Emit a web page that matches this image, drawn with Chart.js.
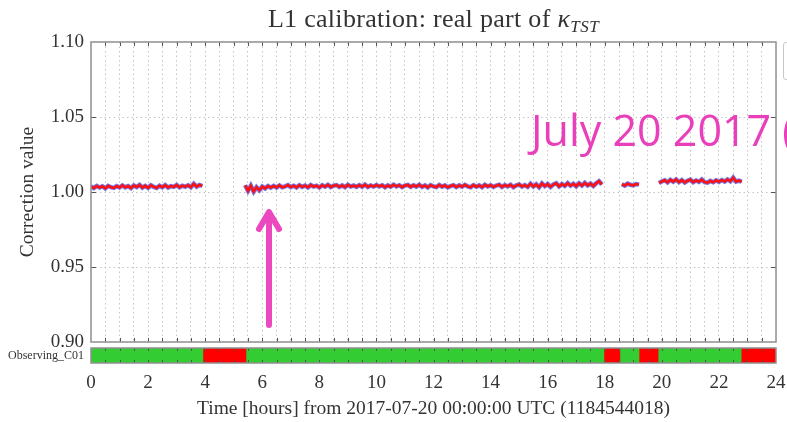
<!DOCTYPE html>
<html><head><meta charset="utf-8">
<script src="https://cdn.jsdelivr.net/npm/chart.js@4.4.0/dist/chart.umd.min.js"></script>
<style>
html,body{margin:0;padding:0;background:#fff;}
body{width:787px;height:422px;overflow:hidden;position:relative;font-family:"Liberation Serif","DejaVu Serif",serif;}
#c1{position:absolute;left:0;top:0;}
#c2{position:absolute;left:0;top:344px;}
#title{position:absolute;left:91px;width:685px;top:2px;text-align:center;font-size:26px;line-height:34px;letter-spacing:0.3px;color:#333;white-space:nowrap;}
#title sub{font-size:17px;vertical-align:-5px;line-height:0;letter-spacing:0.5px;}
#note{position:absolute;left:531px;top:105px;font-family:"Open Sans",sans-serif;font-size:43px;line-height:50px;color:#e93fbb;white-space:nowrap;}
#legbox{position:absolute;left:783px;top:42px;width:30px;height:36px;border:1px solid #c8c8c8;border-radius:3px;background:#fff;}
#arrow{position:absolute;left:0;top:0;}
</style>
</head><body>
<canvas id="c2" width="787" height="78"></canvas>
<canvas id="c1" width="787" height="358"></canvas>
<div id="title">L1 calibration: real part of <i>κ</i><sub><i>TST</i></sub></div>
<div id="legbox"></div>
<div id="note">July 20 2017 (</div>
<svg id="arrow" width="787" height="422">
  <line x1="269" y1="325" x2="269" y2="214" stroke="#ec48bf" stroke-width="6" stroke-linecap="round"/>
  <polyline points="259,229 269,212 279,229" fill="none" stroke="#ec48bf" stroke-width="6" stroke-linecap="round" stroke-linejoin="round"/>
</svg>
<script>
// ---- data (hours, correction value) ----
const timeStep = 0.1;
const seg1Start = 0.0;
const seg1Values = [1.0036,1.0026,1.0040,1.0030,1.0038,1.0024,1.0041,1.0032,1.0027,1.0039,
 1.0030,1.0044,1.0031,1.0040,1.0026,1.0043,1.0033,1.0047,1.0029,1.0041,
 1.0028,1.0045,1.0034,1.0027,1.0042,1.0031,1.0046,1.0030,1.0039,1.0034,
 1.0046,1.0031,1.0042,1.0035,1.0045,1.0032,1.0055,1.0036,1.0047,1.0040];
const seg2Start = 5.4;
const seg2Values = [1.0045,1.0008,1.0042,1.0002,1.0032,1.0012,1.0036,1.0024,1.0040,1.0029,
 1.0041,1.0030,1.0044,1.0031,1.0038,1.0046,1.0033,1.0042,1.0030,1.0045,
 1.0034,1.0043,1.0031,1.0047,1.0036,1.0042,1.0030,1.0045,1.0035,1.0048,
 1.0033,1.0042,1.0046,1.0034,1.0044,1.0032,1.0048,1.0036,1.0043,1.0034,
 1.0046,1.0035,1.0049,1.0033,1.0044,1.0036,1.0047,1.0037,1.0045,1.0032,
 1.0044,1.0035,1.0049,1.0037,1.0045,1.0032,1.0043,1.0047,1.0034,1.0045,
 1.0036,1.0048,1.0034,1.0044,1.0031,1.0046,1.0037,1.0033,1.0047,1.0035,
 1.0044,1.0031,1.0040,1.0046,1.0033,1.0044,1.0035,1.0048,1.0037,1.0031,
 1.0046,1.0035,1.0044,1.0032,1.0048,1.0037,1.0045,1.0034,1.0043,1.0049,
 1.0034,1.0046,1.0037,1.0048,1.0032,1.0044,1.0050,1.0036,1.0046,1.0034,
 1.0055,1.0036,1.0051,1.0031,1.0057,1.0039,1.0053,1.0034,1.0050,1.0058,
 1.0037,1.0053,1.0041,1.0059,1.0042,1.0055,1.0038,1.0058,1.0043,1.0061,
 1.0044,1.0056,1.0040,1.0058,1.0072,1.0050];
const seg3Start = 18.6;
const seg3Values = [1.0052,1.0043,1.0056,1.0048,1.0044,1.0053,1.0049];
const seg4Start = 19.9;
const seg4Values = [1.0060,1.0070,1.0078,1.0064,1.0081,1.0069,1.0084,1.0066,1.0079,1.0063,
 1.0075,1.0082,1.0065,1.0077,1.0068,1.0083,1.0066,1.0062,1.0074,1.0065,
 1.0078,1.0068,1.0080,1.0070,1.0084,1.0072,1.0095,1.0069,1.0076,1.0068];

// observing state segments (hours)
const stateLabel = 'Observing_C01';
const stateStarts = [0, 3.92, 5.43, 17.97, 18.53, 19.2, 19.87, 22.78];
const stateEnds   = [3.92, 5.43, 17.97, 18.53, 19.2, 19.87, 22.78, 24];
const stateOn     = [true, false, true, false, true, false, true, false];

const yTickValues = [0.90, 0.95, 1.00, 1.05, 1.10];
const xTickLabelEvery = 2;

const tickFont = {family: "'Liberation Serif', serif", size: 19};
const axisTitleFont = {family: "'Liberation Serif', serif", size: 19.5};
const segments = [[seg1Start, seg1Values],[seg2Start, seg2Values],[seg3Start, seg3Values],[seg4Start, seg4Values]];
const points = [];
segments.forEach(([s, vals], k) => {
  if (k > 0) points.push({x: s - 0.05, y: null});
  vals.forEach((v, i) => points.push({x: +(s + i * timeStep).toFixed(2), y: v}));
});

function noPad(s) { s.paddingTop = 0; s.paddingBottom = 0; s.paddingLeft = 0; s.paddingRight = 0; }

function frameAndTicks(yTicks, tickLen) {
  return {
    id: 'frame',
    afterDraw(chart) {
      const {ctx, chartArea: a, scales} = chart;
      ctx.save();
      ctx.strokeStyle = '#555';
      ctx.lineWidth = 1;
      ctx.beginPath();
      for (let h = 0.5; h < 24; h += 0.5) {
        const px = Math.round(scales.x.getPixelForValue(h)) + 0.5;
        ctx.moveTo(px, a.top); ctx.lineTo(px, a.top + tickLen);
        ctx.moveTo(px, a.bottom); ctx.lineTo(px, a.bottom - tickLen);
      }
      if (yTicks) yTicks.forEach(v => {
        const py = Math.round(scales.y.getPixelForValue(v)) + 0.5;
        ctx.moveTo(a.left, py); ctx.lineTo(a.left + 5, py);
        ctx.moveTo(a.right, py); ctx.lineTo(a.right - 5, py);
      });
      ctx.stroke();
      ctx.strokeStyle = '#8f8f8f';
      ctx.lineWidth = 1.5;
      ctx.strokeRect(a.left, a.top, a.right - a.left, a.bottom - a.top);
      ctx.restore();
    }
  };
}

new Chart(document.getElementById('c1'), {
  type: 'line',
  data: {datasets: [
    {data: points, borderColor: '#ff1010', borderWidth: 2.5, pointRadius: 0, spanGaps: false, tension: 0, order: 0},
    {data: points, borderColor: 'rgba(80,80,220,0.8)', borderWidth: 4.5, pointRadius: 0, spanGaps: false, tension: 0, order: 1}
  ]},
  options: {
    responsive: false, animation: false, devicePixelRatio: 1,
    layout: {padding: {left: 0, top: 42, right: 11, bottom: 0}},
    plugins: {legend: {display: false}, tooltip: {enabled: false}},
    scales: {
      x: {type: 'linear', min: 0, max: 24,
        afterFit(s) { s.height = 16; noPad(s); },
        ticks: {display: false, stepSize: 0.5, autoSkip: false},
        grid: {drawTicks: false, color: c => (c.tick && (c.tick.value <= 0 || c.tick.value >= 24)) ? 'rgba(0,0,0,0)' : '#c4c4c4', lineWidth: 1},
        border: {display: false, dash: [1.5, 3]}
      },
      y: {type: 'linear', min: 0.9, max: 1.1,
        afterFit(s) { s.width = 91; noPad(s); },
        afterBuildTicks(s) { s.ticks = yTickValues.map(v => ({value: v})); },
        ticks: {padding: 7, color: '#333', font: tickFont, callback: v => v.toFixed(2)},
        grid: {drawTicks: false, color: c => (c.tick && (c.tick.value <= 0.9001 || c.tick.value >= 1.0999)) ? 'rgba(0,0,0,0)' : '#c4c4c4'},
        border: {display: false, dash: [1.5, 3]},
        title: {display: true, text: 'Correction value', color: '#333', font: axisTitleFont, padding: {top: 16, bottom: 4}}
      }
    }
  },
  plugins: [frameAndTicks(yTickValues.slice(1, 4), 4)]
});

const stateDatasets = stateStarts.map((s, i) => ({
  data: [{x: [s, stateEnds[i]], y: stateLabel}],
  backgroundColor: stateOn[i] ? '#33cc33' : '#ff0000',
  borderWidth: 0, barPercentage: 1, categoryPercentage: 1, grouped: false
}));

new Chart(document.getElementById('c2'), {
  type: 'bar',
  data: {labels: [stateLabel], datasets: stateDatasets},
  options: {
    indexAxis: 'y', responsive: false, animation: false, devicePixelRatio: 1,
    layout: {padding: {left: 0, top: 4, right: 11, bottom: 0}},
    plugins: {legend: {display: false}, tooltip: {enabled: false}},
    scales: {
      x: {type: 'linear', min: 0, max: 24,
        afterFit(s) { s.height = 59; noPad(s); },
        ticks: {stepSize: 0.5, autoSkip: false, maxRotation: 0, padding: 9, color: '#333', font: tickFont,
          callback: v => (Math.abs(v % xTickLabelEvery) < 1e-9) ? String(v) : ''},
        grid: {display: false, drawTicks: false},
        border: {display: false},
        title: {display: true, text: 'Time [hours] from 2017-07-20 00:00:00 UTC (1184544018)', color: '#333', font: axisTitleFont, padding: {top: 4, bottom: 1}}
      },
      y: {type: 'category', offset: true,
        afterFit(s) { s.width = 91; noPad(s); },
        ticks: {padding: 7, color: '#333', font: {family: "'Liberation Serif', serif", size: 12}},
        grid: {display: false, drawTicks: false},
        border: {display: false}
      }
    }
  },
  plugins: [frameAndTicks(null, 3)]
});
</script>
</body></html>
